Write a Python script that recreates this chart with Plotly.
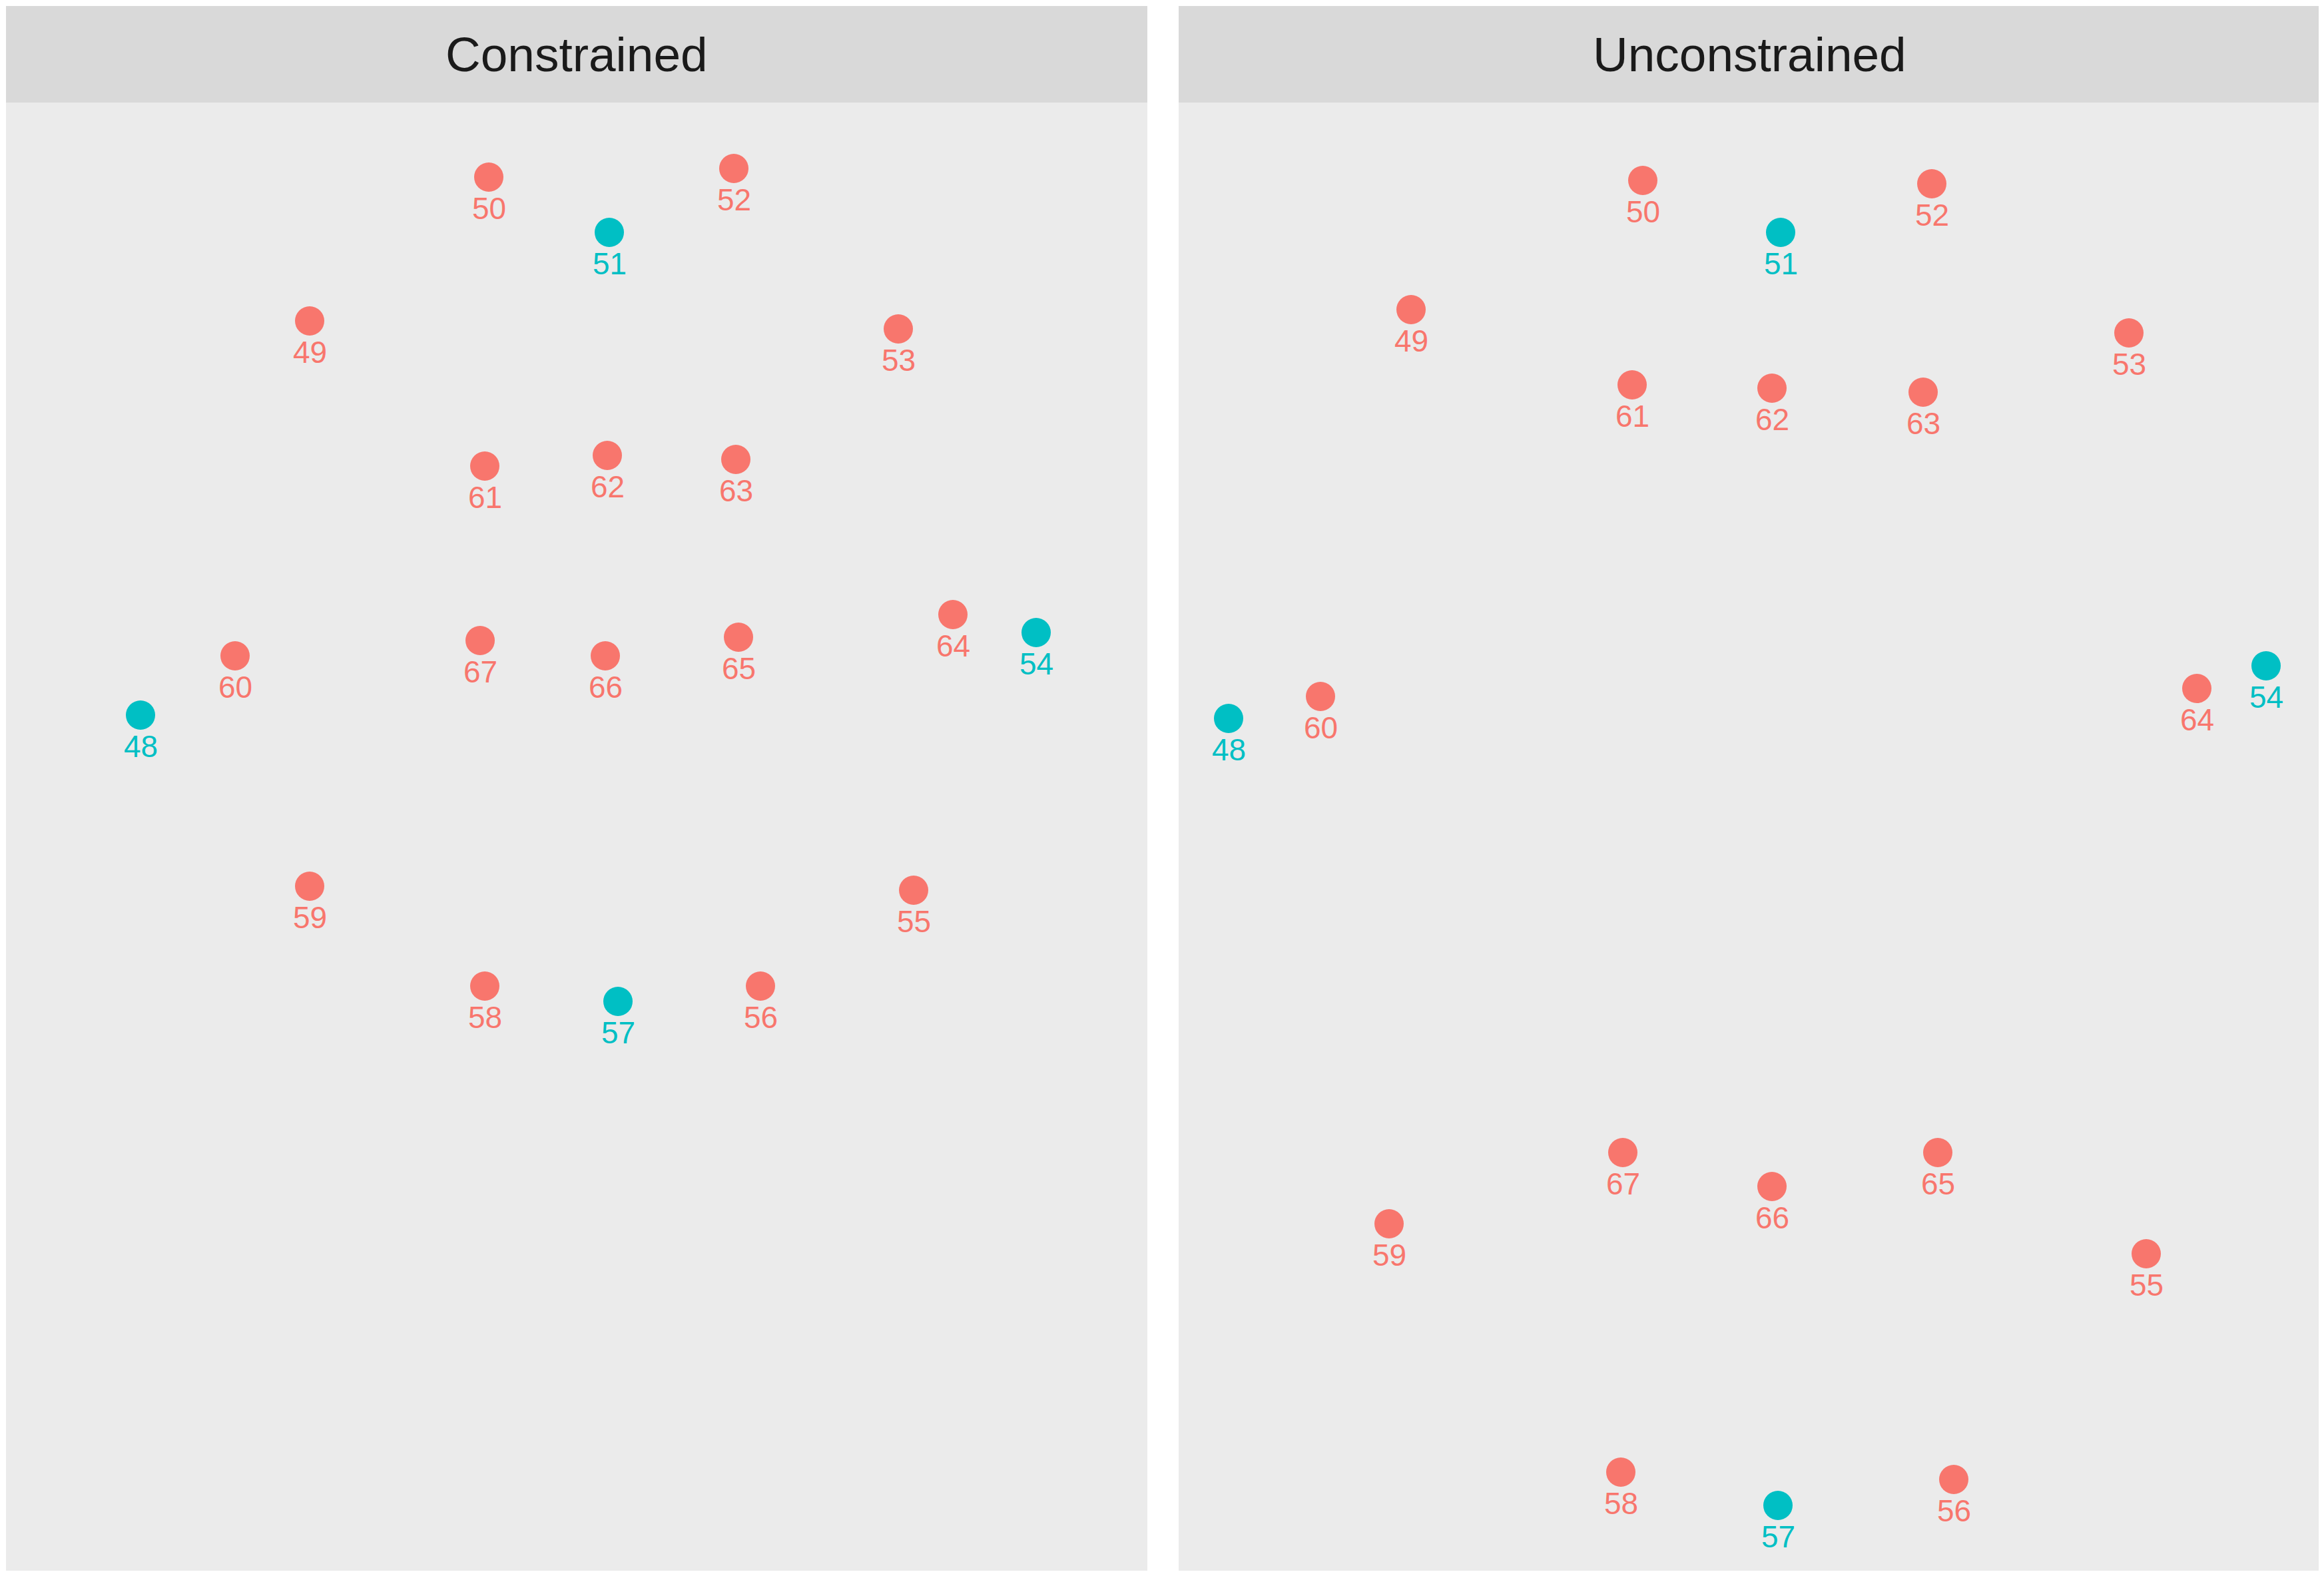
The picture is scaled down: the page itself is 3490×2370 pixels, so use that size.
import plotly.graph_objects as go

# ---------------- data ----------------
landmarks = [48, 49, 50, 51, 52, 53, 54, 55, 56, 57, 58, 59, 60, 61, 62, 63, 64, 65, 66, 67]
anchor_landmarks = [48, 51, 54, 57]
panels = ["Constrained", "Unconstrained"]

constrained_x = [202, 456, 725, 906, 1093, 1340, 1547, 1363, 1133, 919,
                 719, 456, 344, 719, 903, 1096, 1422, 1100, 900, 712]
constrained_y = [920, 328, 112, 195, 99, 340, 796, 1183, 1327, 1350,
                 1327, 1177, 831, 546, 530, 536, 769, 803, 831, 808]

unconstrained_x = [75, 349, 697, 904, 1131, 1427, 1633, 1453, 1164, 900,
                   664, 316, 213, 681, 891, 1118, 1529, 1140, 891, 667]
unconstrained_y = [925, 311, 117, 195, 122, 346, 846, 1729, 2068, 2107,
                   2057, 1684, 892, 424, 429, 435, 880, 1577, 1628, 1577]

# ---------------- style ----------------
COL_OTHER = "#F8766D"
COL_ANCHOR = "#00BFC4"
PANEL_BG = "#EBEBEB"
STRIP_BG = "#D9D9D9"
FONT = "Liberation Sans, Arial, sans-serif"

W, H = 3490, 2370
# page body has an 8px default margin, compensate for it
ML, MR, MT, MB = 1, 14, 1, 19
pw, ph = W - ML - MR, H - MT - MB
x_domains = [[0.0, 1714 / pw], [1761 / pw, 1.0]]
panel_top = (2359 - 154) / ph

fig = go.Figure()
annotations = []
shapes = []

series = [(constrained_x, constrained_y), (unconstrained_x, unconstrained_y)]
for i, (name, (xs, ys)) in enumerate(zip(panels, series)):
    xa = "x" if i == 0 else "x2"
    ya = "y" if i == 0 else "y2"
    colors = [COL_ANCHOR if lm in anchor_landmarks else COL_OTHER for lm in landmarks]
    fig.add_trace(go.Scatter(
        x=xs, y=ys, mode="markers", xaxis=xa, yaxis=ya,
        marker=dict(size=44, color=colors, line=dict(width=0)),
        showlegend=False, hoverinfo="skip",
    ))
    for lm, x, y, c in zip(landmarks, xs, ys, colors):
        annotations.append(dict(
            x=x, y=y, xref=xa, yref=ya, text=str(lm), showarrow=False,
            yshift=-47, xanchor="center", yanchor="middle",
            font=dict(size=46, color=c, family=FONT),
        ))
    d0, d1 = x_domains[i]
    shapes.append(dict(type="rect", xref="paper", yref="paper",
                       x0=d0, x1=d1, y0=panel_top, y1=1.0,
                       fillcolor=STRIP_BG, line=dict(width=0), layer="below"))
    annotations.append(dict(
        x=(d0 + d1) / 2, y=(panel_top + 1.0) / 2, xref="paper", yref="paper",
        text=name, showarrow=False, xanchor="center", yanchor="middle",
        font=dict(size=73, color="#1A1A1A", family=FONT),
    ))

axis_common = dict(showgrid=False, zeroline=False, showticklabels=False,
                   ticks="", showline=False)
x_range = [0, 1714]
y_range = [2205, 0]

fig.update_layout(
    width=W, height=H,
    margin=dict(l=ML, r=MR, t=MT, b=MB, pad=0),
    paper_bgcolor="white", plot_bgcolor=PANEL_BG,
    xaxis=dict(domain=x_domains[0], range=x_range, anchor="y", **axis_common),
    yaxis=dict(domain=[0, panel_top], range=y_range, anchor="x", **axis_common),
    xaxis2=dict(domain=x_domains[1], range=x_range, anchor="y2", **axis_common),
    yaxis2=dict(domain=[0, panel_top], range=y_range, anchor="x2", **axis_common),
    annotations=annotations, shapes=shapes,
    showlegend=False,
)

fig.write_html("out.html")
